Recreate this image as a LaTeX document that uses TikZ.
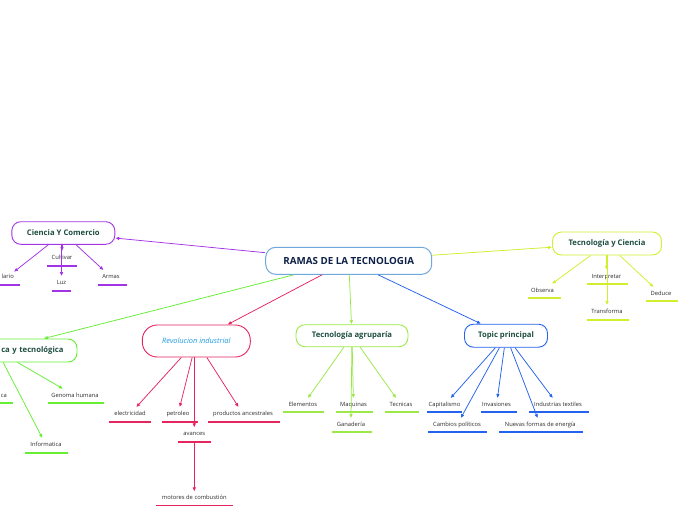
\documentclass[tikz,border=0pt]{standalone}
\usepackage{fontspec}
\setmainfont{Open Sans}
\usetikzlibrary{arrows.meta}
\definecolor{mainb}{HTML}{6FA8DC}
\definecolor{maint}{HTML}{0E2148}
\definecolor{titlec}{HTML}{1D4D40}
\definecolor{purp}{HTML}{A334E6}
\definecolor{ylg}{HTML}{D2EE2E}
\definecolor{grn}{HTML}{66EE33}
\definecolor{crim}{HTML}{E5255E}
\definecolor{lgrn}{HTML}{9BE848}
\definecolor{blu}{HTML}{2463EE}
\definecolor{revt}{HTML}{1E9BE3}
\definecolor{lblc}{HTML}{2B2B2B}
\tikzset{
  topic/.style={draw, fill=white, line width=0.9pt, rounded corners=9pt,
    font=\fontsize{7.7}{9}\selectfont\bfseries, text=titlec, inner sep=0pt},
  lbl/.style={font=\fontsize{5.8}{7}\selectfont, text=lblc, inner xsep=0pt,
    inner ysep=4pt, text height=4.2pt, text depth=1.2pt},
  arr/.style={line width=0.75pt, -{Latex[length=4pt,width=3.6pt]}},
  ul/.style={line width=1.7pt}
}
\begin{document}
\begin{tikzpicture}[x=1pt,y=-1pt]
\useasboundingbox[fill=white] (0,0) rectangle (696,520);

% main
\node[draw=mainb, fill=white, line width=1pt, rounded corners=10pt, minimum width=166pt,
  minimum height=27pt, inner sep=0pt, font=\fontsize{9.8}{11}\selectfont\bfseries, text=maint]
  (main) at (348.7,260.8) {RAMAS DE LA TECNOLOGIA};

% topics
\node[topic, draw=purp, minimum width=103pt, minimum height=22.6pt] (cyc) at (63.3,233) {Ciencia Y Comercio};
\node[topic, draw=ylg, minimum width=109pt, minimum height=23pt] (tyc) at (607,243.5) {Tecnología y Ciencia};
\node[topic, draw=grn, minimum width=160pt, minimum height=23pt, text width=133pt, align=right] (cyt) at (-3,350.5) {ca y tecnológica};
\node[topic, draw=crim, rounded corners=15pt, minimum width=108pt, minimum height=32pt,
  font=\fontsize{7.4}{9}\selectfont\itshape, text=revt] (rev) at (196.3,341) {Revolucion industrial};
\node[topic, draw=lgrn, minimum width=112pt, minimum height=22pt] (agr) at (352,335.7) {Tecnología agruparía};
\node[topic, draw=blu, minimum width=83pt, minimum height=23pt] (top) at (506,335.7) {Topic principal};

% main connectors
\draw[arr, purp] (main) -- (cyc);
\draw[arr, ylg] (main) -- (tyc);
\draw[arr, grn] (main) -- (cyt);
\draw[arr, crim] (main) -- (rev);
\draw[arr, lgrn] (main) -- (agr);
\draw[arr, blu] (main) -- (top);

% Ciencia Y Comercio children
\node[lbl, anchor=east] (lario) at (14,276.7) {lario};
\node[lbl] (cult) at (62,258) {Cultivar};
\node[lbl] (luz) at (61.5,283) {Luz};
\node[lbl] (armas) at (111,277) {Armas};
\draw[arr, purp] (cyc) -- (lario);
\draw[arr, purp] (cyc.south -| cult) -- (cult);
\draw[arr, purp] (cyc.south -| luz) -- (luz);
\draw[arr, purp] (cyc) -- (armas);
\draw[ul, purp] (-2,285) -- (20,285);
\draw[ul, purp] (46.7,266) -- (77.3,266);
\draw[ul, purp] (52,291) -- (71,291);
\draw[ul, purp] (97.7,285) -- (126.7,285);

% Tecnologia y Ciencia children
\node[lbl] (obs) at (542.5,290.7) {Observa};
\node[lbl] (interp) at (606.5,276.7) {Interpretar};
\node[lbl] (transf) at (607,312) {Transforma};
\node[lbl] (ded) at (661,294) {Deduce};
\draw[arr, ylg] (tyc) -- (obs);
\draw[arr, ylg] (tyc.south -| interp) -- (interp);
\draw[arr, ylg] (tyc.south -| transf) -- (transf);
\draw[arr, ylg] (tyc) -- (ded);
\draw[ul, ylg] (527.7,298) -- (560.7,298);
\draw[ul, ylg] (586.7,284) -- (627.7,284);
\draw[ul, ylg] (586.7,320) -- (629,320);
\draw[ul, ylg] (646,301) -- (677.5,301);

% left green node children
\node[lbl, anchor=east] (ca) at (7,395.7) {ca};
\node[lbl] (gen) at (75,395.7) {Genoma humana};
\node[lbl] (inf) at (46,445) {Informatica};
\draw[arr, grn] (cyt) -- (gen);
\draw[arr, grn] (cyt) -- (inf);
\draw[ul, grn] (-2,403) -- (12.7,403);
\draw[ul, grn] (47.7,403) -- (104.3,403);
\draw[ul, grn] (24.5,453) -- (68,453);

% Revolucion industrial children
\node[lbl] (elec) at (130,414) {electricidad};
\node[lbl] (petr) at (178,414) {petroleo};
\node[lbl] (prod) at (243,414) {productos ancestrales};
\node[lbl] (avan) at (194.3,434.3) {avances};
\node[lbl] (mot) at (194.3,498.3) {motores de combustión};
\draw[arr, crim] (rev) -- (elec);
\draw[arr, crim] (rev) -- (petr);
\draw[arr, crim] (rev) -- (prod);
\draw[arr, crim] (rev.south -| avan) -- (avan);
\draw[arr, crim] (avan.south) ++(0,2) -- (mot);
\draw[ul, crim] (109,422) -- (150.7,422);
\draw[ul, crim] (162,422) -- (198,422);
\draw[ul, crim] (208,422) -- (280,422);
\draw[ul, crim] (177.7,442) -- (211,442);
\draw[ul, crim] (156,505.5) -- (232.7,505.5);

% Tecnologia agruparia children
\node[lbl] (elem) at (303,405) {Elementos};
\node[lbl] (maq) at (353.5,405) {Maquinas};
\node[lbl] (gan) at (351,425) {Ganadería};
\node[lbl] (tecn) at (401,405) {Tecnicas};
\draw[arr, lgrn] (agr) -- (elem);
\draw[arr, lgrn] (agr) -- (maq);
\draw[arr, lgrn] (agr) -- (gan.north);
\draw[arr, lgrn] (agr) -- (tecn);
\draw[ul, lgrn] (283.3,412) -- (324,412);
\draw[ul, lgrn] (336,412) -- (373.3,412);
\draw[ul, lgrn] (332,432) -- (371.7,432);
\draw[ul, lgrn] (385,412) -- (419.3,412);

% Topic principal children
\node[lbl] (cap) at (444.5,405) {Capitalismo};
\node[lbl] (inv) at (496.5,405) {Invasiones};
\node[lbl] (ind) at (558,405) {Industrias textiles};
\node[lbl] (camb) at (457,425) {Cambios políticos};
\node[lbl] (nuev) at (540.3,425) {Nuevas formas de energía};
\draw[arr, blu] (top) -- (cap);
\draw[arr, blu] (top) -- (inv);
\draw[arr, blu] (top) -- (ind);
\draw[arr, blu] (top) -- (camb);
\draw[arr, blu] (top) -- (nuev);
\draw[ul, blu] (427,412) -- (461.7,412);
\draw[ul, blu] (481,412) -- (517.3,412);
\draw[ul, blu] (529,412) -- (589,412);
\draw[ul, blu] (428.3,432) -- (487.3,432);
\draw[ul, blu] (499.3,432) -- (583.3,432);
\end{tikzpicture}
\end{document}
